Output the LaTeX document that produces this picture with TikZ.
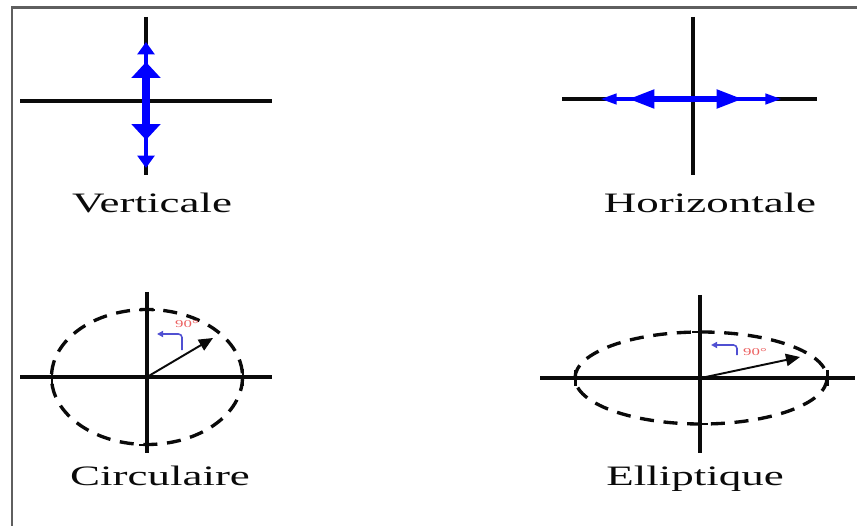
\documentclass[tikz,border=0pt]{standalone}
\usepackage{fontspec}
\setmainfont{Liberation Serif}[FakeStretch=1.6]
\usetikzlibrary{arrows.meta}

\definecolor{axisblack}{RGB}{10, 10, 10}
\definecolor{polblue}{RGB}{0, 0, 255}
\definecolor{framegray}{RGB}{95, 95, 95}
\definecolor{turnblue}{RGB}{80, 80, 210}
\definecolor{anglered}{RGB}{235, 95, 95}

\begin{document}
\begin{tikzpicture}[
  x=0.02cm,
  y=-0.02cm,
  axis/.style={draw=axisblack, line width=2.3pt},
  orbit/.style={draw=axisblack, line width=1.9pt, dash pattern=on 8pt off 5.5pt},
  tickmark/.style={draw=axisblack, line width=1.7pt},
  vector/.style={draw=axisblack, line width=1.1pt, -{Triangle[length=8pt, width=7pt]}},
  turn/.style={draw=turnblue, line width=0.9pt, rounded corners=2pt, -{Triangle[length=3.5pt, width=3.5pt]}},
  caption/.style={font=\fontsize{16}{18}\selectfont, text=axisblack, anchor=base},
  anglelabel/.style={font=\fontsize{6}{7}\selectfont, text=anglered}
]

  \useasboundingbox (0, 0) rectangle (857, 526);

  % Frame
  \draw[framegray, line width=1.7pt] (12, 526) -- (12, 8) -- (857, 8);

  % Verticale
  \draw[axis] (146, 17) -- (146, 175);
  \draw[axis] (20, 101) -- (272, 101);
  \draw[polblue, line width=2.8pt, {Triangle[length=7pt, width=9.5pt]}-{Triangle[length=7pt, width=9.5pt]}] (146, 42) -- (146, 168);
  \draw[polblue, line width=5pt, {Triangle[length=9pt, width=16pt]}-{Triangle[length=9pt, width=16pt]}] (146, 62) -- (146, 140);
  \node[caption] (vertlbl) at (152, 213) {Verticale};

  % Horizontale
  \draw[axis] (693, 17) -- (693, 175);
  \draw[axis] (562, 99) -- (817, 99);
  \draw[polblue, line width=2.3pt, {Triangle[length=9.5pt, width=5.7pt]}-{Triangle[length=9.5pt, width=5.7pt]}] (600, 99) -- (782, 99);
  \draw[polblue, line width=3.4pt, {Triangle[length=15pt, width=10pt]}-{Triangle[length=15pt, width=10pt]}] (628, 99) -- (743, 99);
  \node[caption] (horilbl) at (710, 213) {Horizontale};

  % Circulaire
  \coordinate (circ) at (147, 377);
  \coordinate (circtip) at (213, 338);
  \draw[orbit] (circ) ellipse [x radius=95.5, y radius=67.5];
  \draw[axis] (147, 292) -- (147, 453);
  \draw[axis] (20, 377) -- (272, 377);
  \draw[tickmark] (52, 369) -- (52, 386);
  \draw[tickmark] (243, 369) -- (243, 386);
  \draw[tickmark] (139, 310) -- (155, 310);
  \draw[tickmark] (139, 445) -- (157, 445);
  \draw[vector] (circ) -- (circtip);
  \draw[turn] (182, 350) |- (157, 334);
  \node[anglelabel] (circang) at (187, 324) {90°};
  \node[caption] (circlbl) at (160, 485) {Circulaire};

  % Elliptique
  \coordinate (elli) at (701, 378);
  \coordinate (ellitip) at (800, 357);
  \draw[orbit] (elli) ellipse [x radius=126, y radius=46];
  \draw[axis] (700, 295) -- (700, 453);
  \draw[axis] (540, 378) -- (855, 378);
  \draw[tickmark] (575, 370) -- (575, 386);
  \draw[tickmark] (827, 370) -- (827, 386);
  \draw[tickmark] (692, 332) -- (708, 332);
  \draw[tickmark] (692, 424) -- (708, 424);
  \draw[vector] (elli) -- (ellitip);
  \draw[turn] (737, 355) |- (711, 345);
  \node[anglelabel] (elliang) at (755, 352) {90°};
  \node[caption] (ellilbl) at (695, 485) {Elliptique};

\end{tikzpicture}
\end{document}
